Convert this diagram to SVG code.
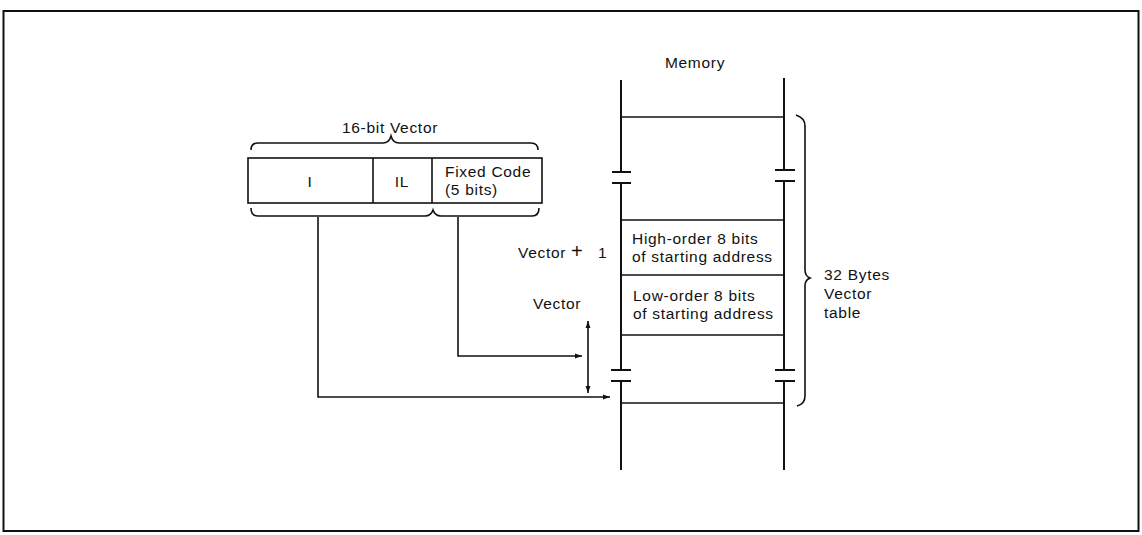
<svg xmlns="http://www.w3.org/2000/svg" width="1142" height="535" viewBox="0 0 1142 535">
<defs>
<style>
.ln{stroke:#111;stroke-width:1.6;fill:none}
.th{stroke:#111;stroke-width:2;fill:none}
.tx{font-family:"Liberation Sans",Arial,sans-serif;font-size:15.5px;letter-spacing:0.7px;fill:#111}
</style>
<marker id="ah" viewBox="0 0 10 10" refX="10" refY="5" markerWidth="17" markerHeight="7" markerUnits="userSpaceOnUse" orient="auto-start-reverse">
<path d="M0,1.5 L10,5 L0,8.5 Z" fill="#111"/>
</marker>
</defs>
<rect width="1142" height="535" fill="#fff"/>
<rect id="frame" x="3.5" y="11" width="1135" height="520" class="th"/>

<g id="vector16">
<text class="tx" x="390" y="133" text-anchor="middle">16-bit Vector</text>
<path class="ln" d="M251,150 Q251,143 258,143 L383,143 Q389,143 391,136 Q393,143 399,143 L531,143 Q538,143 538,150"/>
<rect x="248" y="158" width="294" height="45" class="ln"/>
<line x1="373" y1="158" x2="373" y2="203" class="ln"/>
<line x1="432" y1="158" x2="432" y2="203" class="ln"/>
<text class="tx" x="310" y="187" text-anchor="middle">I</text>
<text class="tx" x="402" y="187" text-anchor="middle">IL</text>
<text class="tx" x="445" y="177">Fixed Code</text>
<text class="tx" x="445" y="195">(5 bits)</text>
<path class="ln" d="M251,208 Q251,216 258,216 L425,216 Q431,216 433,210 Q435,216 441,216 L532,216 Q539,216 539,208"/>
</g>

<g id="memory">
<text class="tx" x="695" y="68" text-anchor="middle">Memory</text>
<path class="th" d="M621,80 L621,172 M621,183 L621,370 M621,381 L621,470"/>
<path class="th" d="M784,78 L784,170 M784,181 L784,370 M784,381 L784,470"/>
<path class="th" d="M612,172 L631,172 M612,183 L631,183 M611,370 L631,370 M611,381 L631,381"/>
<path class="th" d="M775,170 L795,170 M775,181 L795,181 M775,370 L795,370 M775,381 L795,381"/>
<line x1="621" y1="117" x2="784" y2="117" class="ln"/>
<line x1="621" y1="220" x2="784" y2="220" class="ln"/>
<line x1="621" y1="275" x2="784" y2="275" class="ln"/>
<line x1="621" y1="335" x2="784" y2="335" class="ln"/>
<line x1="621" y1="403" x2="784" y2="403" class="ln"/>
<text class="tx" x="632" y="244">High-order 8 bits</text>
<text class="tx" x="632" y="262">of starting address</text>
<text class="tx" x="633" y="301">Low-order 8 bits</text>
<text class="tx" x="633" y="319">of starting address</text>
</g>

<g id="table-brace">
<path class="ln" d="M796,115 Q805,118 805,126 L805,270 Q805,276 810,278 Q805,280 805,286 L805,396 Q805,404 797,406"/>
<text class="tx" x="824" y="280">32 Bytes</text>
<text class="tx" x="824" y="299">Vector</text>
<text class="tx" x="824" y="318">table</text>
</g>

<g id="labels">
<text class="tx" x="518" y="258">Vector<tspan x="571" style="font-size:20px;font-weight:300">+</tspan><tspan x="598">1</tspan></text>
<text class="tx" x="533" y="309">Vector</text>
</g>

<g id="connectors">
<path class="ln" d="M318,217 L318,397 L610,397" marker-end="url(#ah)"/>
<path class="ln" d="M458,217 L458,356 L582,356" marker-end="url(#ah)"/>
<line x1="588" y1="321" x2="588" y2="393" class="ln" marker-start="url(#ah)" marker-end="url(#ah)"/>
</g>
</svg>
